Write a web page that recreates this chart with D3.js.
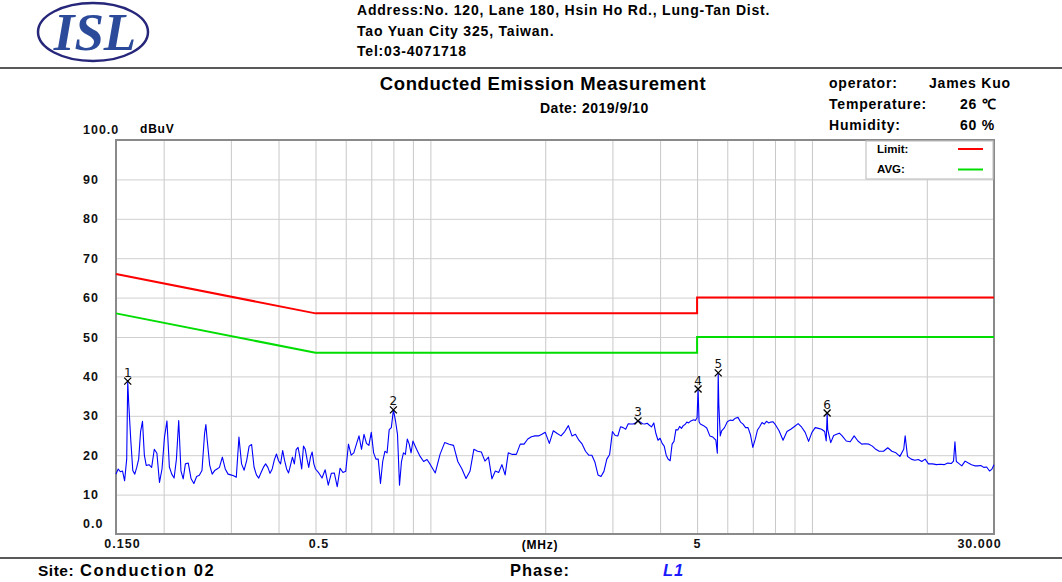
<!DOCTYPE html>
<html>
<head>
<meta charset="utf-8">
<script src="https://cdn.jsdelivr.net/npm/d3@7"></script>
<style>
body { margin: 0; background: #fff; }
text { font-family: "Liberation Sans", Arial, sans-serif; }
</style>
</head>
<body>
<script>
// scan, frequency in MHz / level in dBuV
const scanMHz = [
  0.150, 0.152, 0.154, 0.156, 0.158, 0.160, 0.161, 0.162, 0.164, 0.166, 0.168, 0.170, 0.172, 0.174, 0.176, 0.178,
  0.180, 0.183, 0.186, 0.189, 0.192, 0.195, 0.198, 0.201, 0.204, 0.207, 0.210, 0.213, 0.216, 0.219, 0.222, 0.225,
  0.228, 0.232, 0.236, 0.240, 0.244, 0.248, 0.252, 0.256, 0.258, 0.260, 0.264, 0.268, 0.272, 0.276, 0.280, 0.285,
  0.290, 0.295, 0.300, 0.305, 0.310, 0.315, 0.320, 0.325, 0.330, 0.335, 0.340, 0.345, 0.350, 0.355, 0.360, 0.365,
  0.370, 0.375, 0.380, 0.385, 0.390, 0.395, 0.400, 0.405, 0.410, 0.415, 0.420, 0.425, 0.430, 0.435, 0.440, 0.445,
  0.450, 0.455, 0.460, 0.465, 0.470, 0.475, 0.480, 0.485, 0.490, 0.495, 0.500, 0.510, 0.520, 0.530, 0.540, 0.550,
  0.56, 0.57, 0.58, 0.59, 0.60, 0.61, 0.62, 0.63, 0.64, 0.65, 0.66, 0.67, 0.68, 0.69, 0.70, 0.71, 0.72, 0.73, 0.74,
  0.75, 0.76, 0.77, 0.78, 0.79, 0.80, 0.81, 0.82, 0.83, 0.84, 0.85, 0.86, 0.87, 0.88, 0.89, 0.90, 0.92, 0.94, 0.96,
  0.98, 1.00, 1.03, 1.06, 1.09, 1.12, 1.15, 1.18, 1.21, 1.24, 1.27, 1.30, 1.33, 1.36, 1.39, 1.42, 1.45, 1.48, 1.51,
  1.54, 1.57, 1.60, 1.64, 1.68, 1.72, 1.76, 1.80, 1.84, 1.88, 1.92, 1.96, 2.00, 2.05, 2.10,
  2.15, 2.20, 2.25, 2.30, 2.35, 2.40, 2.45, 2.50, 2.55, 2.60, 2.65, 2.70, 2.75, 2.80, 2.85, 2.90, 2.95, 3.00, 3.05,
  3.10, 3.15, 3.20, 3.25, 3.30, 3.35, 3.40, 3.45, 3.50, 3.55, 3.60, 3.65, 3.70, 3.75, 3.80, 3.85, 3.90, 3.95, 4.00,
  4.05, 4.10, 4.15, 4.20, 4.25, 4.30, 4.35, 4.40, 4.45, 4.50, 4.55, 4.60, 4.65, 4.70, 4.75, 4.80, 4.85, 4.90, 4.95,
  5.00, 5.03, 5.06, 5.10, 5.20, 5.30, 5.40, 5.50, 5.60, 5.65, 5.68, 5.70, 5.75, 5.80, 5.90, 6.00, 6.10, 6.20, 6.30,
  6.40, 6.50, 6.60, 6.70, 6.80, 6.90, 7.00, 7.10, 7.20, 7.30, 7.40, 7.50, 7.60, 7.70, 7.80, 7.90,
  8.0, 8.2, 8.4, 8.6, 8.8, 9.0, 9.2, 9.4, 9.6, 9.8, 10.0, 10.2, 10.4, 10.6, 10.8, 10.9, 10.96, 11.0, 11.2, 11.4,
  11.6, 11.8, 12.0, 12.3, 12.6, 12.9, 13.2, 13.5, 13.8, 14.1, 14.4, 14.7, 15.0, 15.4, 15.8, 16.2, 16.6, 17.0, 17.4,
  17.55, 17.8, 18.2, 18.6, 19.0, 19.4, 19.8, 20.2, 20.7, 21.2, 21.7, 22.2, 22.7, 23.2, 23.5, 23.7, 23.9, 24.2, 24.7,
  25.2, 25.7, 26.2, 26.7, 27.2, 27.7, 28.2, 28.7, 29.2, 29.6, 30.0
];
const scanDbuv = [
  15.2, 16.5, 15.8, 16.0, 13.5, 19.0, 38.8, 33.0, 23.8, 16.1, 15.2, 16.9, 19.0, 26.0, 28.6, 20.0,
  17.4, 17.6, 16.9, 21.5, 20.5, 13.1, 16.5, 24.6, 28.7, 17.0, 15.2, 14.2, 19.0, 28.8, 16.0, 14.0,
  17.8, 18.0, 14.0, 12.8, 14.6, 14.9, 16.1, 25.5, 27.8, 24.0, 17.5, 15.2, 16.1, 16.5, 16.9, 19.5,
  16.5, 15.2, 15.0, 14.8, 14.4, 24.6, 17.8, 16.2, 18.6, 22.3, 22.7, 17.0, 15.0, 14.2, 15.6, 16.9,
  17.8, 16.9, 15.4, 16.5, 18.8, 20.3, 18.6, 17.8, 21.2, 18.6, 16.5, 15.5, 17.5, 19.5, 17.8, 21.4,
  22.0, 19.5, 16.5, 22.3, 21.5, 19.0, 16.9, 19.5, 20.8, 17.8, 16.5, 15.5, 14.2, 16.3, 12.4, 15.4,
  15.5, 12.0, 16.7, 15.6, 15.9, 22.8, 20.0, 20.6, 22.8, 24.9, 21.5, 25.3, 23.0, 22.5, 25.8, 20.6, 19.0, 19.0, 12.8,
  18.4, 21.0, 20.6, 26.5, 27.0, 31.5, 28.8, 25.3, 12.4, 18.4, 20.6, 20.2, 24.1, 22.8, 20.6, 23.6, 21.5, 19.7, 18.4,
  18.9, 17.6, 15.5, 20.2, 23.2, 22.8, 22.5, 18.4, 16.5, 14.1, 15.9, 21.5, 21.0, 20.8, 18.5, 19.5, 14.0, 16.0, 15.6,
  17.6, 15.0, 20.6, 20.2, 20.2, 22.8, 22.8, 24.1, 24.7, 24.9, 24.9, 25.3, 25.8, 23.0, 26.2,
  25.5, 24.9, 26.0, 27.5, 24.9, 25.3, 23.8, 22.8, 21.0, 20.0, 20.0, 18.2, 15.0, 14.6, 15.9, 19.0, 20.2, 26.0, 25.0,
  24.9, 27.2, 27.0, 26.6, 28.0, 27.9, 27.9, 28.2, 28.7, 28.4, 28.0, 27.9, 28.1, 27.6, 27.2, 28.2, 25.5, 23.8, 24.3,
  23.0, 22.3, 20.0, 19.0, 18.6, 22.8, 23.5, 26.5, 26.4, 27.3, 26.8, 27.5, 27.8, 28.4, 28.2, 28.6, 28.8, 29.0, 28.8,
  29.5, 36.8, 28.5, 27.9, 27.5, 26.9, 24.9, 24.6, 23.8, 20.5, 40.9, 33.0, 24.9, 26.2, 27.0, 28.5, 28.9, 28.8, 29.4,
  29.6, 28.4, 27.9, 27.0, 27.0, 25.2, 22.0, 24.0, 26.4, 27.3, 28.3, 27.9, 28.6, 28.2, 28.4, 28.5,
  27.9, 26.2, 23.8, 26.0, 26.6, 27.3, 28.0, 27.1, 25.8, 23.5, 25.8, 27.0, 26.8, 26.6, 26.0, 23.6, 30.7, 26.5, 23.2, 25.0,
  25.3, 25.6, 24.9, 23.6, 23.4, 24.9, 23.6, 22.8, 22.9, 22.8, 22.3, 21.5, 21.0, 21.0, 21.9, 21.0, 20.6, 19.7, 21.5,
  24.9, 19.7, 19.0, 18.7, 18.9, 18.4, 19.0, 17.8, 17.8, 17.6, 17.7, 17.6, 18.0, 17.9, 18.5, 23.4, 18.4, 18.0, 17.3,
  18.5, 18.0, 17.6, 17.3, 17.3, 17.4, 16.9, 17.0, 16.0, 16.4, 17.6
];

// CISPR class B limits (QP and AVG)
const limitMHz = [0.15, 0.5, 0.5, 5, 5, 30];
const limitQp = [66, 56, 56, 56, 60, 60];
const limitAvg = [56, 46, 46, 46, 50, 50];

const markerNo = ["1", "2", "3", "4", "5", "6"];
const markerMHz = [0.161, 0.80, 3.50, 5.03, 5.68, 10.96];
const markerDbuv = [38.8, 31.5, 28.7, 36.8, 40.9, 30.7];

const yTicks = [0, 10, 20, 30, 40, 50, 60, 70, 80, 90, 100];
const xGrid = [0.2, 0.3, 0.4, 0.5, 0.6, 0.7, 0.8, 0.9, 1, 2, 3, 4, 5, 6, 7, 8, 9, 10, 20];
const xTicks = [0.15, 0.5, 5, 30];
const xTickText = ["0.150", "0.5", "5", "30.000"];

const width = 1062, height = 582;
const plot = {left: 116, right: 994, top: 140, bottom: 534};

const svg = d3.select("body").append("svg")
  .attr("width", width)
  .attr("height", height);

const x = d3.scaleLog().domain([0.15, 30]).range([plot.left, plot.right]);
const y = d3.scaleLinear().domain([0, 100]).range([plot.bottom, plot.top]);

// ---- header ----
const head = svg.append("g");
head.append("ellipse")
  .attr("cx", 93).attr("cy", 32).attr("rx", 55).attr("ry", 29)
  .attr("fill", "none").attr("stroke", "#26267a").attr("stroke-width", 2.5);
head.append("text")
  .attr("x", 95).attr("y", 50)
  .attr("text-anchor", "middle")
  .style("font-family", "'Liberation Serif', serif")
  .style("font-weight", "bold").style("font-style", "italic")
  .style("font-size", "53px")
  .attr("fill", "#2c4a9a")
  .text("ISL");

const addr = ["Address:No. 120, Lane 180, Hsin Ho Rd., Lung-Tan Dist.", "Tao Yuan City 325, Taiwan.", "Tel:03-4071718"];
head.selectAll(".addr").data(addr).enter().append("text")
  .attr("class", "addr")
  .attr("x", 357).attr("y", (d, i) => 15 + i * 20.5)
  .style("font-weight", "bold").style("font-size", "14px").style("letter-spacing", "0.8px")
  .text(d => d);

svg.append("line").attr("x1", 0).attr("x2", width).attr("y1", 68).attr("y2", 68)
  .attr("stroke", "#222").attr("stroke-width", 1.6);

svg.append("text").attr("x", 543).attr("y", 90).attr("text-anchor", "middle")
  .style("font-weight", "bold").style("font-size", "18.5px").style("letter-spacing", "0.6px")
  .text("Conducted Emission Measurement");
svg.append("text").attr("x", 540).attr("y", 113)
  .style("font-weight", "bold").style("font-size", "14px").style("letter-spacing", "0.5px")
  .text("Date: 2019/9/10");

const info = [["operator:", "James Kuo", 929], ["Temperature:", "26 \u2103", 960], ["Humidity:", "60 %", 960]];
info.forEach((r, i) => {
  const yy = 88 + i * 21;
  svg.append("text").attr("x", 829).attr("y", yy)
    .style("font-weight", "bold").style("font-size", "14px").style("letter-spacing", "0.8px").text(r[0]);
  svg.append("text").attr("x", r[2]).attr("y", yy)
    .style("font-weight", "bold").style("font-size", "14px").style("letter-spacing", "0.8px").text(r[1]);
});

// ---- grid ----
svg.append("g")
  .attr("transform", `translate(0,${plot.bottom})`)
  .call(d3.axisBottom(x).tickValues(xGrid).tickSize(-(plot.bottom - plot.top)).tickFormat(""))
  .call(g => g.select(".domain").remove())
  .call(g => g.selectAll("line").attr("stroke", "#c8c8c8"));

svg.append("g")
  .attr("transform", `translate(${plot.left},0)`)
  .call(d3.axisLeft(y).tickValues(yTicks.slice(1, -1)).tickSize(-(plot.right - plot.left)).tickFormat(""))
  .call(g => g.select(".domain").remove())
  .call(g => g.selectAll("line").attr("stroke", "#cfcfcf"));

svg.append("rect")
  .attr("x", plot.left).attr("y", plot.top)
  .attr("width", plot.right - plot.left).attr("height", plot.bottom - plot.top)
  .attr("fill", "none").attr("stroke", "#8a8a8a").attr("stroke-width", 2);

// ---- axis labels ----
const tickFont = g => g.selectAll("text")
  .style("font-family", "'Liberation Sans', Arial, sans-serif")
  .style("font-weight", "bold").style("font-size", "12.5px")
  .style("letter-spacing", "1px").attr("fill", "#111");

svg.append("g")
  .attr("transform", `translate(${plot.left},0)`)
  .call(d3.axisLeft(y).tickValues(yTicks).tickSize(0)
    .tickFormat(d => d === 0 ? "0.0" : d === 100 ? "100.0" : d))
  .call(g => g.select(".domain").remove())
  .call(tickFont)
  .call(g => g.selectAll("text")
    .attr("x", 83 - plot.left).attr("text-anchor", "start")
    .attr("dy", d => (d === 0 || d === 100) ? "-0.55em" : "0.32em"));

svg.append("text").attr("x", 140).attr("y", y(100) - 7)
  .style("font-weight", "bold").style("font-size", "12px").style("letter-spacing", "0.8px")
  .text("dBuV");

const xShift = [6, 3, 0, -15];
svg.append("g")
  .attr("transform", `translate(0,${plot.bottom})`)
  .call(d3.axisBottom(x).tickValues(xTicks).tickSize(0).tickPadding(5.5)
    .tickFormat((d, i) => xTickText[i]))
  .call(g => g.select(".domain").remove())
  .call(tickFont)
  .call(g => g.selectAll("text").attr("dx", (d, i) => xShift[i]));

svg.append("text").attr("x", 540).attr("y", plot.bottom + 14.5).attr("text-anchor", "middle")
  .style("font-weight", "bold").style("font-size", "12px").style("letter-spacing", "0.8px")
  .text("(MHz)");

// ---- curves ----
const curves = svg.append("g");

const limitLine = (vals) => d3.line()
  .x((d, i) => x(limitMHz[i]))
  .y((d, i) => y(vals[i]))(vals);

curves.append("path").attr("d", limitLine(limitQp))
  .attr("fill", "none").attr("stroke", "#ff0000").attr("stroke-width", 2);
curves.append("path").attr("d", limitLine(limitAvg))
  .attr("fill", "none").attr("stroke", "#00dd00").attr("stroke-width", 2);

const scan = d3.line()
  .x((d, i) => x(scanMHz[i]))
  .y((d, i) => y(scanDbuv[i]));

curves.append("path").attr("d", scan(scanDbuv))
  .attr("fill", "none").attr("stroke", "#0000ff").attr("stroke-width", 1.1)
  .attr("stroke-linejoin", "round");

// ---- markers ----
const marks = svg.selectAll(".mark").data(markerNo).enter().append("g")
  .attr("class", "mark")
  .attr("transform", (d, i) => `translate(${x(markerMHz[i])},${y(markerDbuv[i])})`);
marks.append("path")
  .attr("d", "M-3.5,-3.5L3.5,3.5M-3.5,3.5L3.5,-3.5")
  .attr("stroke", "#000").attr("stroke-width", 1.3).attr("fill", "none");
marks.append("text")
  .attr("y", -4.5).attr("text-anchor", "middle")
  .style("font-family", "'DejaVu Sans', sans-serif").style("font-size", "12px")
  .attr("fill", "#111")
  .text(d => d);

// ---- legend ----
const legend = svg.append("g").attr("transform", "translate(866,141)");
legend.append("rect").attr("width", 127).attr("height", 38)
  .attr("fill", "#fff").attr("stroke", "#c4c4c4").attr("stroke-width", 1.2);
const legendItems = [["Limit:", "#ff0000"], ["AVG:", "#00dd00"]];
legendItems.forEach((it, i) => {
  legend.append("text").attr("x", 11).attr("y", 12 + i * 20)
    .style("font-weight", "bold").style("font-size", "11.5px").text(it[0]);
  legend.append("line").attr("x1", 92).attr("x2", 117)
    .attr("y1", 8 + i * 20.5).attr("y2", 8 + i * 20.5)
    .attr("stroke", it[1]).attr("stroke-width", 2);
});

// ---- footer ----
svg.append("line").attr("x1", 0).attr("x2", width).attr("y1", 558).attr("y2", 558)
  .attr("stroke", "#222").attr("stroke-width", 1.6);
const foot = [["Site:", 38, "#000", "normal", 0.5], ["Conduction 02", 80, "#000", "normal", 1.6],
              ["Phase:", 510, "#000", "normal", 1], ["L1", 663, "#1a1aff", "italic", 1]];
foot.forEach(f => {
  svg.append("text").attr("x", f[1]).attr("y", 576)
    .style("font-weight", "bold").style("font-size", f[0] === "Site:" ? "15.5px" : "16.5px")
    .style("letter-spacing", f[4] + "px")
    .style("font-style", f[3]).attr("fill", f[2])
    .text(f[0]);
});
</script>
</body>
</html>
